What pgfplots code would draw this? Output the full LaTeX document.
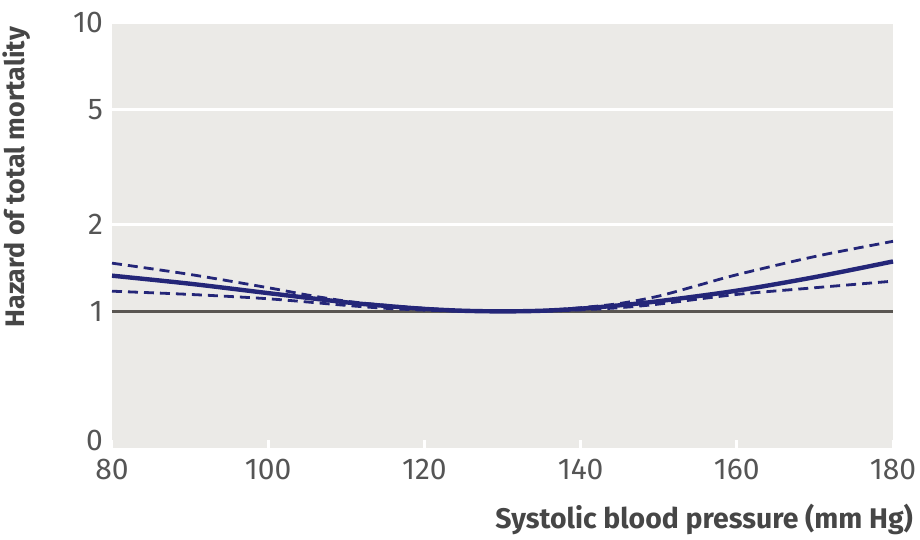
\documentclass[border=0pt]{standalone}
\usepackage{fontspec}
\setmainfont{Fira Sans}
\usepackage{pgfplots}
\pgfplotsset{compat=1.18}
\usetikzlibrary{calc}
\definecolor{bggray}{RGB}{235,234,231}
\definecolor{navy}{RGB}{36,38,120}
\definecolor{labgray}{RGB}{85,85,85}
\definecolor{titlegray}{RGB}{70,70,70}
\definecolor{onegray}{RGB}{90,86,82}
\begin{document}
\begin{tikzpicture}
\begin{axis}[
  name=ax,
  width=390.5pt, height=212.5pt, scale only axis,
  xmin=80, xmax=180, ymode=log, ymin=0.336, ymax=10,
  axis line style={draw=none},
  axis background/.style={fill=bggray},
  xtick={80,100,...,180},
  ytick={1,2,5,10}, yticklabels={1,2,5,10},
  extra y ticks={0.358}, extra y tick labels={0},
  extra y tick style={grid=none},
  ymajorgrids, major grid style={white, line width=1.5pt},
  minor ytick={}, yminorticks=false,
  tick pos=left,
  tick align=inside,
  ytick style={draw=none},
  xtick style={white, line width=1.5pt},
  major tick length=4pt,
  log ticks with fixed point,
  /pgf/number format/assume math mode=true,
  tick label style={font=\fontsize{15}{18}\selectfont, text=labgray},
  yticklabel style={xshift=-1pt},
  xticklabel style={yshift=-2pt},
  xlabel={Systolic blood pressure (mm Hg)},
  ylabel={Hazard of total mortality},
  label style={font=\bfseries\fontsize{14.2}{17}\selectfont, text=titlegray},
  xlabel style={at={([xshift=13.5pt,yshift=-40pt]rel axis cs:1,0)}, anchor=base east},
  ylabel style={font=\bfseries\fontsize{13.4}{16}\selectfont, at={([xshift=-37pt,yshift=1.5pt]rel axis cs:0,1)}, anchor=south east},
  clip=false,
]
\addplot[onegray, line width=1.3pt] coordinates {(80,1) (180,1)};
% lower dashed
\addplot[navy, line width=1.4pt, dash pattern=on 5pt off 3pt, smooth] coordinates {
(80,1.175) (90,1.145) (100,1.106) (110,1.049) (115,1.025) (120,1.01) (125,1.002) (130,1.0) (135,1.002) (140,1.012) (145,1.03) (150,1.06) (160,1.145) (170,1.208) (180,1.273)};
% upper dashed
\addplot[navy, line width=1.4pt, dash pattern=on 5pt off 3pt, smooth] coordinates {
(80,1.47) (90,1.343) (100,1.208) (105,1.14) (110,1.085) (115,1.05) (120,1.025) (125,1.006) (130,1.0) (135,1.006) (140,1.03) (145,1.065) (150,1.13) (155,1.23) (160,1.34) (170,1.55) (180,1.75)};
% estimate
\addplot[navy, line width=2.2pt, smooth] coordinates {
(80,1.33) (90,1.247) (100,1.157) (110,1.075) (115,1.045) (120,1.02) (125,1.005) (130,1.0) (135,1.005) (140,1.022) (145,1.05) (150,1.085) (160,1.18) (170,1.315) (180,1.49)};
\end{axis}
\pgfresetboundingbox
\path ($(ax.south west)+(-56pt,-46pt)$) rectangle ($(ax.north east)+(13.5pt,11.5pt)$);
\end{tikzpicture}
\end{document}
